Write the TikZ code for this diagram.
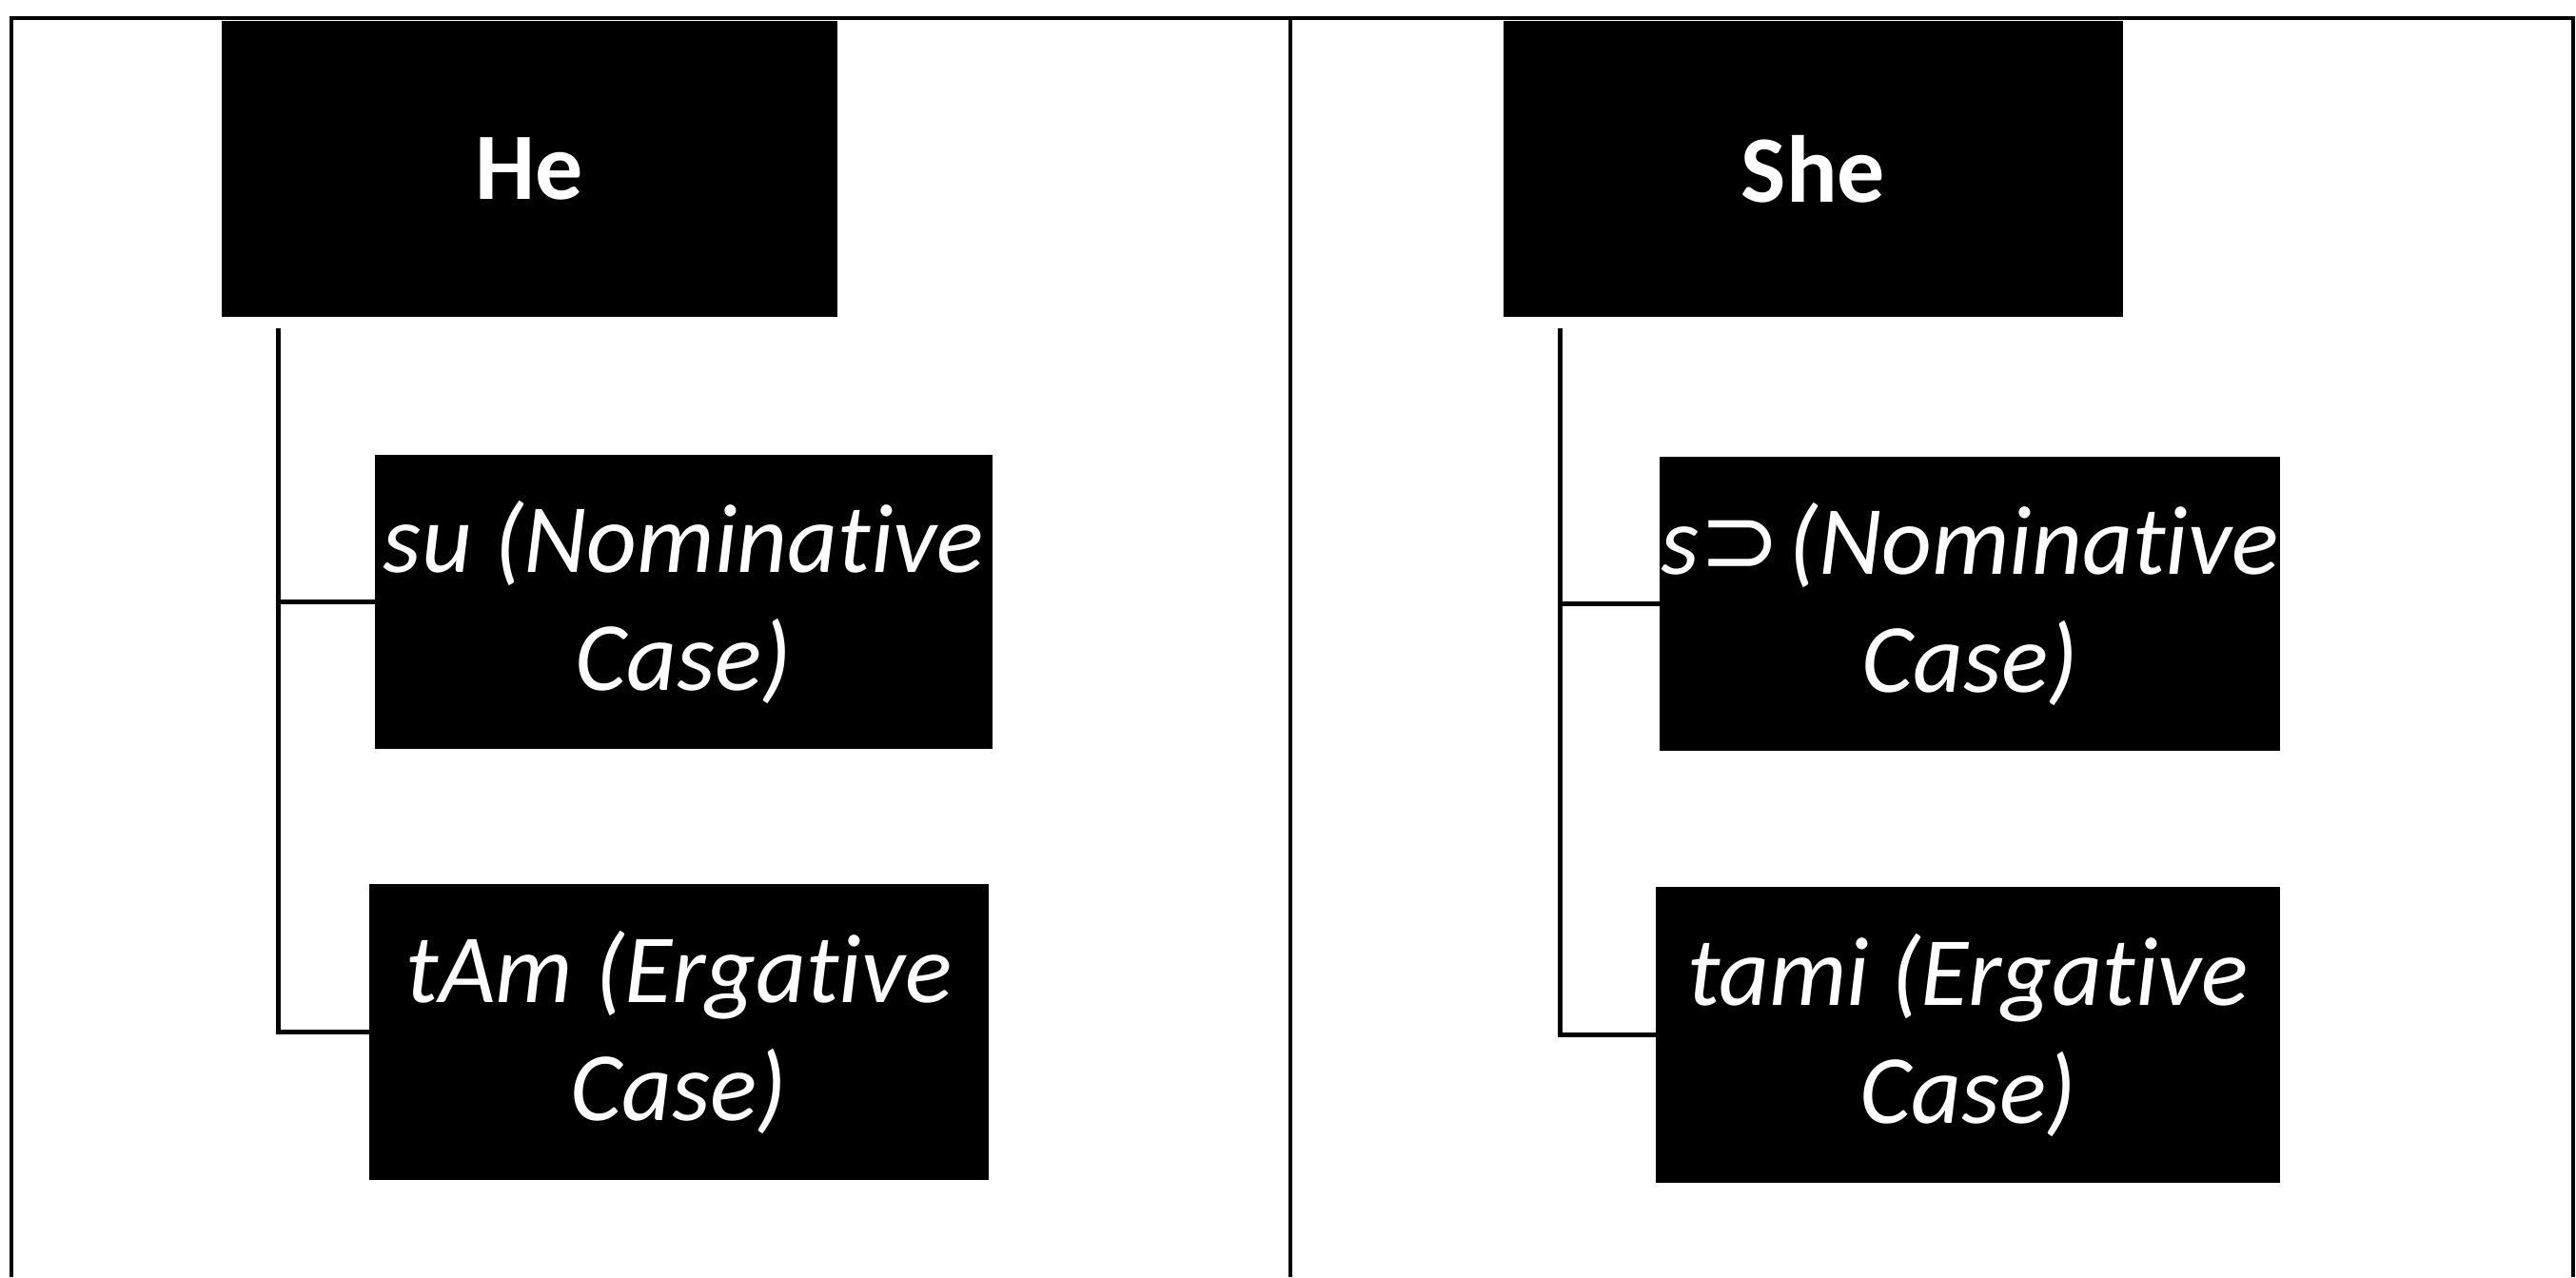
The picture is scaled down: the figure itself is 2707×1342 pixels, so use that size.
\documentclass[tikz,border=0pt]{standalone}
\usepackage{fontspec}
\setmainfont[Ligatures=NoCommon]{Carlito}
\newfontfamily\symfont{DejaVu Sans}
\begin{document}
\begin{tikzpicture}[x=1pt,y=-1pt,
  blk/.style={fill=black,text=white,inner sep=0pt,align=center,
    font=\fontsize{103}{124}\selectfont\itshape},
  headbox/.style={blk,font=\fontsize{100}{122}\selectfont\bfseries},
  frame/.style={line width=4pt,black},
  conn/.style={line width=5pt,black}]
\useasboundingbox (0,0) rectangle (2707,1342);
% table frame
\draw[frame] (12,1342) -- (12,19) -- (2704,19) -- (2704,1342);
\draw[frame] (1356,19) -- (1356,1342);
% boxes
\node[headbox,minimum width=647pt,minimum height=311pt] (he) at (556.5,177.5) {He};
\node[headbox,minimum width=651pt,minimum height=311pt] (she) at (1905.5,177.5) {She};
\node[blk,minimum width=649pt,minimum height=309pt] (su) at (718.5,632.5) {su (Nominative\\Case)};
\node[blk,minimum width=651pt,minimum height=311pt] (tam) at (713.5,1084.5) {tAm (Ergative\\Case)};
\node[blk,minimum width=652pt,minimum height=309pt] (so) at (2070,634.5) {s{\symfont\itshape ⊃}\hspace{8pt}(Nominative\\Case)};
\node[blk,minimum width=656pt,minimum height=311pt] (tami) at (2068,1087.5) {tami (Ergative\\Case)};
% connectors
\coordinate (hl) at ([xshift=60pt,yshift=-12pt]he.south west);
\coordinate (sl) at ([xshift=60pt,yshift=-12pt]she.south west);
\draw[conn] (hl) |- (su.west);
\draw[conn] (hl) |- (tam.west);
\draw[conn] (sl) |- (so.west);
\draw[conn] (sl) |- (tami.west);
\end{tikzpicture}
\end{document}
